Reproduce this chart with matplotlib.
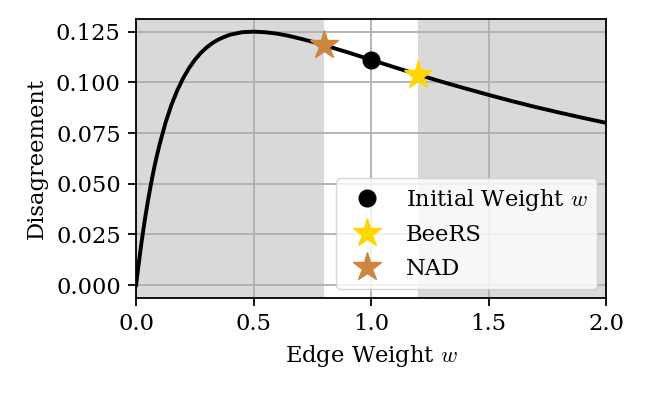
import matplotlib
matplotlib.use("Agg")
import matplotlib.pyplot as plt

plt.rcParams['font.family'] = 'DejaVu Serif'
plt.rcParams['mathtext.fontset'] = 'cm'

# edge weight vs disagreement
weights = [0, 0.005, 0.01, 0.02, 0.03, 0.04, 0.05, 0.06, 0.07, 0.08, 0.09, 0.1,
           0.125, 0.15, 0.175, 0.2, 0.225, 0.25, 0.275, 0.3, 0.325, 0.35, 0.375,
           0.4, 0.45, 0.5, 0.55, 0.6, 0.65, 0.7, 0.75, 0.8, 0.9, 1.0, 1.1, 1.2,
           1.3, 1.4, 1.5, 1.6, 1.7, 1.8, 1.9, 2.0]
disagreement = [0.0, 0.0049, 0.0096, 0.0185, 0.0267, 0.0343, 0.0413, 0.0478, 0.0539,
                0.0595, 0.0646, 0.0694, 0.0800, 0.0888, 0.0960, 0.1020, 0.1070, 0.1111,
                0.1145, 0.1172, 0.1194, 0.1211, 0.1224, 0.1235, 0.1247, 0.1250, 0.1247,
                0.1240, 0.1229, 0.1215, 0.1200, 0.1183, 0.1148, 0.1111, 0.1074, 0.1038,
                0.1003, 0.0970, 0.0938, 0.0907, 0.0878, 0.0851, 0.0825, 0.0800]

initial_w, initial_d = 1.0, 0.1111
beers_w, beers_d = 1.2, 0.1038
nad_w, nad_d = 0.8, 0.1183
feasible = (0.8, 1.2)

fig = plt.figure(figsize=(6.45, 3.95), dpi=100)
ax = fig.add_axes([0.211, 0.246, 0.729, 0.706])

ax.axvspan(0, feasible[0], color='#d9d9d9', zorder=0, lw=0)
ax.axvspan(feasible[1], 2, color='#d9d9d9', zorder=0, lw=0)
ax.grid(True, color='#b0b0b0', lw=1.3, zorder=1)
ax.set_axisbelow(True)

ax.plot(weights, disagreement, color='black', lw=2.8, zorder=3)
ax.plot(initial_w, initial_d, 'o', color='black', ms=12, zorder=4,
        label='Initial Weight $w$', ls='none')
ax.plot(beers_w, beers_d, '*', color='gold', ms=21, zorder=4, label='BeeRS', ls='none')
ax.plot(nad_w, nad_d, '*', color='peru', ms=21, zorder=4, label='NAD', ls='none')

ax.set_xlim(0, 2)
ax.set_ylim(-0.00625, 0.13125)
ax.set_xticks([0, 0.5, 1.0, 1.5, 2.0])
ax.set_yticks([0, 0.025, 0.05, 0.075, 0.1, 0.125])
ax.yaxis.set_major_formatter(matplotlib.ticker.FormatStrFormatter('%.3f'))
ax.tick_params(labelsize=16.3, length=6, width=1.3, pad=5)
for s in ax.spines.values():
    s.set_linewidth(1.3)

ax.set_xlabel('Edge Weight $w$', fontsize=16.3, labelpad=6)
ax.set_ylabel('Disagreement', fontsize=16.3, labelpad=6)
ax.legend(loc='lower right', fontsize=16.3, framealpha=0.8, borderaxespad=0.4,
          handletextpad=0.8, handlelength=1.9)

fig.savefig('out.png', dpi=100)
